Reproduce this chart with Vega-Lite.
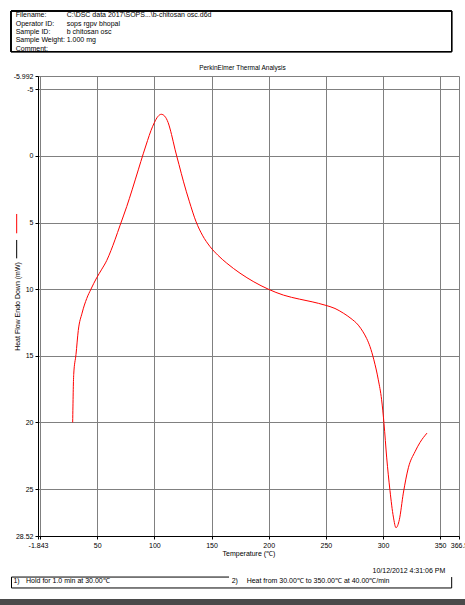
{
  "$schema": "https://vega.github.io/schema/vega-lite/v6.json",
  "width": 421,
  "height": 460,
  "autosize": {"type": "none"},
  "padding": {"left": 38, "top": 76, "right": 6, "bottom": 69},
  "background": "white",
  "config": {
    "view": {"stroke": null},
    "font": "Liberation Sans",
    "axis": {
      "labelFont": "Liberation Sans", "labelFontSize": 7, "labelColor": "#000000",
      "titleFont": "Liberation Sans", "titleFontSize": 7, "titleFontWeight": "normal", "titleColor": "#000000",
      "domainColor": "#000000", "domainWidth": 1, "tickColor": "#000000", "tickSize": 3, "labelPadding": 2,
      "gridColor": "#808080", "gridOpacity": 1, "gridWidth": 1,
      "labelFlush": false, "labelOverlap": false
    },
    "text": {"font": "Liberation Sans", "fontSize": 7, "color": "#000000"}
  },
  "resolve": {"scale": {"y": "independent"}},
  "layer": [
    {
      "layer": [
        {
          "data": {"values": [
            {"temperature": 28.5, "heatflow": 20.0},
            {"temperature": 29.4, "heatflow": 16.4},
            {"temperature": 31.4, "heatflow": 14.9},
            {"temperature": 33.4, "heatflow": 13.1},
            {"temperature": 36.7, "heatflow": 11.8},
            {"temperature": 40.8, "heatflow": 10.7},
            {"temperature": 44.5, "heatflow": 10.0},
            {"temperature": 49.5, "heatflow": 9.15},
            {"temperature": 54.0, "heatflow": 8.5},
            {"temperature": 58.3, "heatflow": 7.85},
            {"temperature": 62.0, "heatflow": 7.1},
            {"temperature": 65.5, "heatflow": 6.3},
            {"temperature": 70.0, "heatflow": 5.2},
            {"temperature": 75.8, "heatflow": 3.8},
            {"temperature": 80.5, "heatflow": 2.55},
            {"temperature": 85.9, "heatflow": 1.05},
            {"temperature": 90.4, "heatflow": -0.2},
            {"temperature": 94.0, "heatflow": -1.15},
            {"temperature": 97.0, "heatflow": -1.9},
            {"temperature": 100.0, "heatflow": -2.5},
            {"temperature": 103.0, "heatflow": -2.95},
            {"temperature": 106.0, "heatflow": -3.12},
            {"temperature": 109.0, "heatflow": -2.98},
            {"temperature": 112.0, "heatflow": -2.5},
            {"temperature": 115.0, "heatflow": -1.6},
            {"temperature": 118.0, "heatflow": -0.5},
            {"temperature": 121.5, "heatflow": 0.65},
            {"temperature": 125.5, "heatflow": 1.95},
            {"temperature": 130.5, "heatflow": 3.4},
            {"temperature": 136.5, "heatflow": 4.95},
            {"temperature": 142.0, "heatflow": 5.95},
            {"temperature": 148.6, "heatflow": 6.8},
            {"temperature": 155.5, "heatflow": 7.45},
            {"temperature": 163.3, "heatflow": 8.05},
            {"temperature": 174.9, "heatflow": 8.8},
            {"temperature": 187.0, "heatflow": 9.45},
            {"temperature": 199.6, "heatflow": 10.0},
            {"temperature": 213.0, "heatflow": 10.45},
            {"temperature": 227.0, "heatflow": 10.75},
            {"temperature": 238.0, "heatflow": 10.95},
            {"temperature": 249.3, "heatflow": 11.2},
            {"temperature": 258.0, "heatflow": 11.45},
            {"temperature": 265.3, "heatflow": 11.8},
            {"temperature": 272.0, "heatflow": 12.2},
            {"temperature": 278.4, "heatflow": 12.7},
            {"temperature": 282.5, "heatflow": 13.2},
            {"temperature": 285.7, "heatflow": 13.7},
            {"temperature": 288.6, "heatflow": 14.3},
            {"temperature": 292.0, "heatflow": 15.3},
            {"temperature": 295.9, "heatflow": 16.8},
            {"temperature": 298.8, "heatflow": 18.3},
            {"temperature": 300.9, "heatflow": 20.1},
            {"temperature": 303.2, "heatflow": 22.6},
            {"temperature": 306.1, "heatflow": 25.1},
            {"temperature": 309.1, "heatflow": 27.1},
            {"temperature": 311.4, "heatflow": 27.9},
            {"temperature": 314.3, "heatflow": 27.3},
            {"temperature": 317.8, "heatflow": 25.3},
            {"temperature": 322.2, "heatflow": 23.4},
            {"temperature": 328.0, "heatflow": 22.2},
            {"temperature": 332.4, "heatflow": 21.5},
            {"temperature": 338.5, "heatflow": 20.8}
          ]},
          "mark": {"type": "line", "color": "#ff0000", "strokeWidth": 1, "interpolate": "monotone"},
          "encoding": {
            "x": {
              "field": "temperature", "type": "quantitative",
              "scale": {"domain": [-1.843, 366.5], "nice": false, "zero": false},
              "axis": {
                "title": "Temperature (\u2103)",
                "values": [-1.843, 0, 50, 100, 150, 200, 250, 300, 350, 366.5],
                "labelExpr": "datum.value == 0 ? '' : toString(datum.value)",
                "grid": true, "titlePadding": 1
              }
            },
            "y": {
              "field": "heatflow", "type": "quantitative",
              "scale": {"domain": [-5.992, 28.52], "reverse": true, "nice": false, "zero": false},
              "axis": {
                "title": "Heat Flow Endo Down (mW)",
                "values": [-5.992, -5, 0, 5, 10, 15, 20, 25, 28.52],
                "labelExpr": "toString(datum.value)",
                "grid": true, "titleX": -21, "titleBaseline": "middle", "titleAngle": -90
              }
            }
          }
        },
        {
          "data": {"values": [{"series": "sample"}]},
          "mark": {"type": "rule", "color": "#ff0000", "strokeWidth": 1, "clip": false},
          "encoding": {
            "x": {"datum": -20.5, "type": "quantitative"},
            "y": {"datum": 4.36, "type": "quantitative"},
            "y2": {"datum": 5.81}
          }
        },
        {
          "data": {"values": [{"series": "reference"}]},
          "mark": {"type": "rule", "color": "#000000", "strokeWidth": 1, "clip": false},
          "encoding": {
            "x": {"datum": -20.5, "type": "quantitative"},
            "y": {"datum": 6.31, "type": "quantitative"},
            "y2": {"datum": 7.69}
          }
        },
        {
          "data": {"values": [{"title": "PerkinElmer Thermal Analysis"}]},
          "mark": {"type": "text", "align": "center", "baseline": "middle", "clip": false, "fontSize": 6.5},
          "encoding": {
            "x": {"datum": 177.0, "type": "quantitative"},
            "y": {"datum": -6.59, "type": "quantitative"},
            "text": {"field": "title"}
          }
        },
        {
          "data": {"values": [{"timestamp": "10/12/2012 4:31:06 PM"}]},
          "mark": {"type": "text", "align": "right", "baseline": "middle", "clip": false},
          "encoding": {
            "x": {"datum": 354.5, "type": "quantitative"},
            "y": {"datum": 31.15, "type": "quantitative"},
            "text": {"field": "timestamp"}
          }
        },
        {
          "data": {"name": "footer", "values": [
            {"step": "1)", "description": "Hold for 1.0 min at 30.00\u2103"},
            {"step": "2)", "description": "Heat from 30.00\u2103 to 350.00\u2103 at 40.00\u2103/min"}
          ]},
          "layer": [
            {
              "transform": [{"filter": "datum.step == '1)'"}],
              "mark": {"type": "text", "align": "left", "baseline": "middle", "clip": false},
              "encoding": {"x": {"datum": -23.3, "type": "quantitative"}, "y": {"datum": 31.92, "type": "quantitative"}, "text": {"field": "step"}}
            },
            {
              "transform": [{"filter": "datum.step == '1)'"}],
              "mark": {"type": "text", "align": "left", "baseline": "middle", "clip": false},
              "encoding": {"x": {"datum": -12.3, "type": "quantitative"}, "y": {"datum": 31.92, "type": "quantitative"}, "text": {"field": "description"}}
            },
            {
              "transform": [{"filter": "datum.step == '2)'"}],
              "mark": {"type": "text", "align": "left", "baseline": "middle", "clip": false},
              "encoding": {"x": {"datum": 167.6, "type": "quantitative"}, "y": {"datum": 31.92, "type": "quantitative"}, "text": {"field": "step"}}
            },
            {
              "transform": [{"filter": "datum.step == '2)'"}],
              "mark": {"type": "text", "align": "left", "baseline": "middle", "clip": false},
              "encoding": {"x": {"datum": 180.7, "type": "quantitative"}, "y": {"datum": 31.92, "type": "quantitative"}, "text": {"field": "description"}}
            }
          ]
        },
        {
          "data": {"values": [{"box": "steps"}]},
          "layer": [
            {
              "mark": {"type": "rule", "color": "#000000", "strokeWidth": 1, "clip": false},
              "encoding": {"x": {"datum": -25.03, "type": "quantitative"}, "x2": {"datum": 165.3}, "y": {"datum": 31.6, "type": "quantitative"}}
            },
            {
              "mark": {"type": "rule", "color": "#000000", "strokeWidth": 1, "clip": false},
              "encoding": {"x": {"datum": -25.03, "type": "quantitative"}, "x2": {"datum": 360.1}, "y": {"datum": 32.42, "type": "quantitative"}}
            },
            {
              "mark": {"type": "rule", "color": "#000000", "strokeWidth": 1, "clip": false},
              "encoding": {"x": {"datum": -25.03, "type": "quantitative"}, "y": {"datum": 31.6, "type": "quantitative"}, "y2": {"datum": 32.42}}
            },
            {
              "mark": {"type": "rule", "color": "#000000", "strokeWidth": 1, "clip": false},
              "encoding": {"x": {"datum": 360.1, "type": "quantitative"}, "y": {"datum": 31.6, "type": "quantitative"}, "y2": {"datum": 32.42}}
            }
          ]
        },
        {
          "data": {"values": [{"band": "footer"}]},
          "mark": {"type": "rect", "color": "#4a4a4a", "clip": false},
          "encoding": {
            "x": {"datum": -45, "type": "quantitative"},
            "x2": {"datum": 385},
            "y": {"datum": 33.25, "type": "quantitative"},
            "y2": {"datum": 34.6}
          }
        }
      ]
    },
    {
      "data": {"values": [
        {"line": 1, "field": "Filename:", "value": "C:\\DSC data 2017\\SOPS...\\b-chitosan osc.d6d"},
        {"line": 2, "field": "Operator ID:", "value": "sops rgpv bhopal"},
        {"line": 3, "field": "Sample ID:", "value": "b chitosan osc"},
        {"line": 4, "field": "Sample Weight:", "value": "1.000 mg"},
        {"line": 5, "field": "Comment:", "value": ""}
      ]},
      "layer": [
        {
          "mark": {"type": "rect", "fillOpacity": 0, "stroke": "#000000", "strokeWidth": 1, "clip": false},
          "encoding": {
            "x": {"datum": -25.47, "type": "quantitative"},
            "x2": {"datum": 360.1},
            "y": {"datum": 0.497, "type": "quantitative", "scale": {"domain": [8.281, 63.37], "reverse": true, "nice": false, "zero": false}, "axis": null},
            "y2": {"datum": 5.371}
          }
        },
        {
          "mark": {"type": "text", "align": "left", "baseline": "middle", "clip": false},
          "encoding": {
            "x": {"datum": -21.35, "type": "quantitative"},
            "y": {"field": "line", "type": "quantitative", "scale": {"domain": [8.281, 63.37], "reverse": true, "nice": false, "zero": false}, "axis": null},
            "text": {"field": "field"}
          }
        },
        {
          "mark": {"type": "text", "align": "left", "baseline": "middle", "clip": false},
          "encoding": {
            "x": {"datum": 23.27, "type": "quantitative"},
            "y": {"field": "line", "type": "quantitative", "scale": {"domain": [8.281, 63.37], "reverse": true, "nice": false, "zero": false}, "axis": null},
            "text": {"field": "value"}
          }
        }
      ]
    }
  ]
}
